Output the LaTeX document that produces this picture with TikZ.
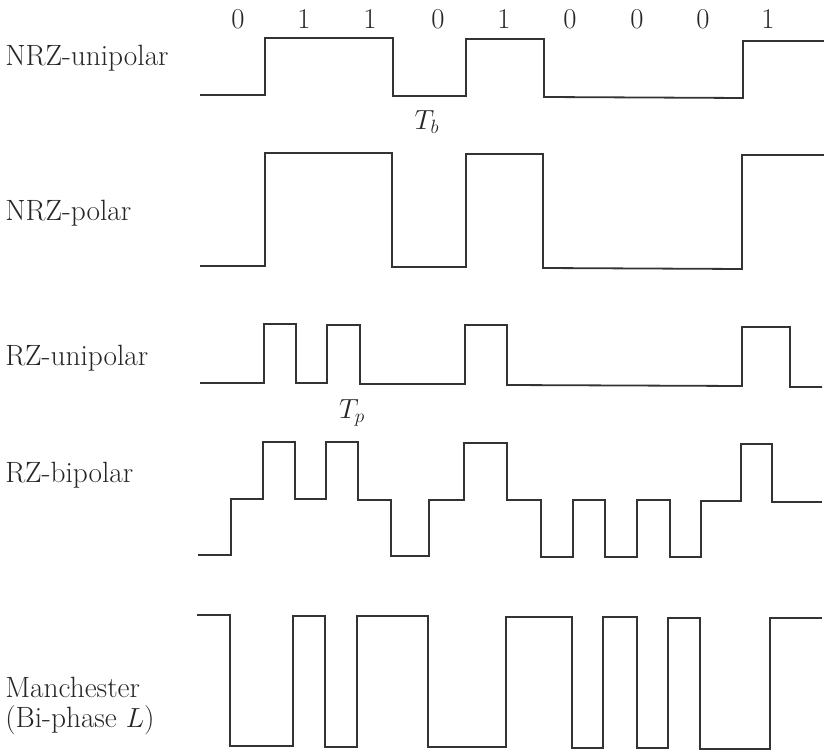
\documentclass[tikz,border=0pt]{standalone}
\usepackage{fontspec}
\begin{document}
\begin{tikzpicture}[x=0.75pt,y=-0.75pt,
  wave/.style={draw=black!80,line width=1.35pt,line join=miter},
  lbl/.style={anchor=west,inner sep=0pt,text=black!85,font=\fontsize{22}{25}\selectfont,align=left},
  bit/.style={inner sep=0pt,text=black!85,font=\fontsize{21.5}{25}\selectfont},
  tlbl/.style={inner sep=0pt,text=black!85,font=\fontsize{21}{25}\selectfont}]
\useasboundingbox (0,0) rectangle (824,755);
% bit labels
\foreach \x/\b [count=\i] in {238/0,304/1,370/1,438/0,504/1,570/0,637/0,703/0,768/1}
  \node[bit] (b\i) at (\x,19) {\b};
% row labels
\node[lbl] (l1) at (5,58) {NRZ-unipolar};
\node[lbl] (l2) at (5,213) {NRZ-polar};
\node[lbl] (l3) at (5,358) {RZ-unipolar};
\node[lbl] (l4) at (5,475) {RZ-bipolar};
\node[lbl] (l5a) at (5,687) {Manchester};
\node[lbl] (l5b) at (5,720) {(Bi-phase $L$)};
% time labels
\node[tlbl] (tb) at (427,122) {$T_b$};
\node[tlbl] (tp) at (352,413) {$T_p$};
% NRZ-unipolar
\draw[wave] (200,95) -- (265,95) -- (265,38) -- (393,38) -- (393,96) -- (466,96) -- (466,39)
  -- (544,39) -- (544,97) -- (743,98) -- (743,41) -- (824,41);
% NRZ-polar
\draw[wave] (200,266) -- (265,266) -- (265,153) -- (392,153) -- (392,267) -- (466,267) -- (466,154)
  -- (543,154) -- (543,268) -- (742,269) -- (742,155) -- (824,155);
% RZ-unipolar
\draw[wave] (200,383) -- (264,383) -- (264,324) -- (296,324) -- (296,383) -- (327,383) -- (327,325)
  -- (360,325) -- (360,384) -- (465,384) -- (465,325) -- (507,325) -- (507,385) -- (742,386)
  -- (742,327) -- (790,327) -- (790,387) -- (822,387);
% RZ-bipolar
\draw[wave] (198,555) -- (231,555) -- (231,499) -- (263,499) -- (263,442) -- (295,442) -- (295,499)
  -- (326,499) -- (326,442) -- (358,442) -- (358,500) -- (391,500) -- (391,556) -- (429,556)
  -- (429,500) -- (464,500) -- (464,443) -- (507,443) -- (507,500) -- (541,500) -- (541,557)
  -- (573,557) -- (573,500) -- (605,500) -- (605,557) -- (637,557) -- (637,500) -- (670,500)
  -- (670,557) -- (701,557) -- (701,501) -- (741,501) -- (741,444) -- (772,444) -- (772,502)
  -- (822,502);
% Manchester
\draw[wave] (197,615) -- (230,615) -- (230,746) -- (293,746) -- (293,616) -- (325,616) -- (325,747)
  -- (357,747) -- (357,616) -- (428,616) -- (428,747) -- (506,747) -- (506,617) -- (572,617)
  -- (572,748) -- (603,748) -- (603,617) -- (637,617) -- (637,748) -- (668,748) -- (668,618)
  -- (700,618) -- (700,749) -- (770,749) -- (770,618) -- (822,618);
\end{tikzpicture}
\end{document}
